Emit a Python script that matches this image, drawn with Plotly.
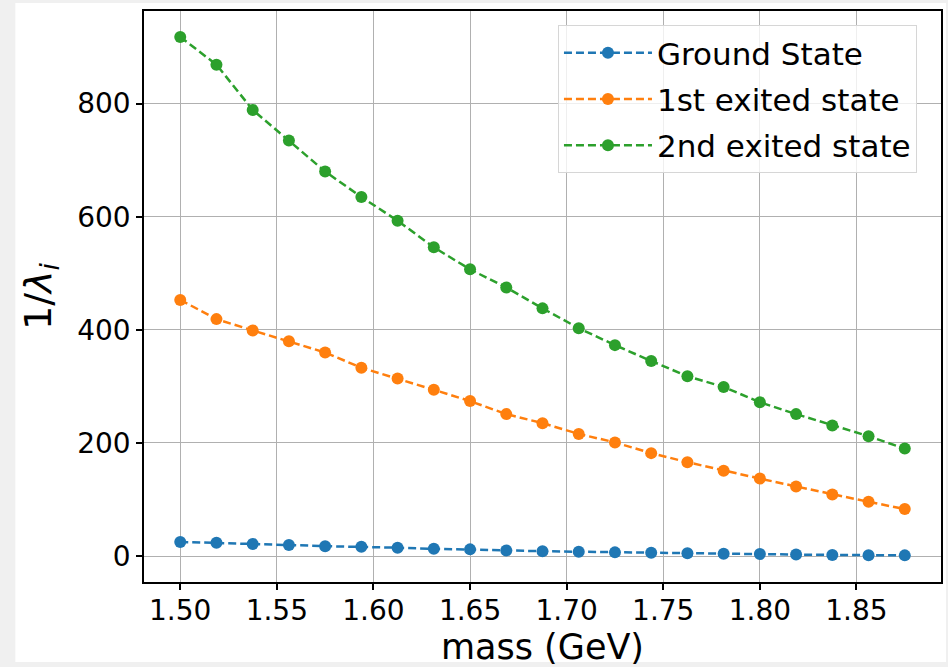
import plotly.graph_objects as go

mass = [1.5 + 0.01875 * i for i in range(21)]

ground_state = [25, 23.5, 21.5, 19.5, 17.5, 16.5, 14.8, 12.8, 11.8, 10.0, 8.5,
                7.5, 6.5, 5.8, 5.0, 4.2, 3.5, 2.6, 2.0, 1.6, 1.2]
first_excited = [453, 419, 399, 380, 360, 333, 314, 294, 274, 251, 235,
                 216, 201, 182, 166, 151, 137, 123, 109, 96, 83]
second_excited = [918, 869, 789, 735, 680, 635, 593, 546, 507, 475, 438,
                  403, 373, 345, 318, 299, 272, 251, 231, 212, 190]

series_names = ["Ground State", "1st exited state", "2nd exited state"]
series_values = [ground_state, first_excited, second_excited]
colors = ["#1f77b4", "#ff7f0e", "#2ca02c"]

x_ticks = [1.50, 1.55, 1.60, 1.65, 1.70, 1.75, 1.80, 1.85]
x_tick_labels = ["1.50", "1.55", "1.60", "1.65", "1.70", "1.75", "1.80", "1.85"]
y_ticks = [0, 200, 400, 600, 800]

FONT = "DejaVu Sans"

fig = go.Figure()
for name, vals, col in zip(series_names, series_values, colors):
    fig.add_trace(go.Scatter(
        x=mass, y=vals, name=name, mode="lines+markers", legendgroup=name,
        line=dict(color=col, width=2.5, dash="8px,4px"),
        marker=dict(color=col, size=12),
    ))

W, H = 948, 667
L, R, T, B = 144, 5, 11, 85
pw, ph = W - L - R, H - T - B

fig.add_shape(type="rect", xref="paper", yref="paper",
              x0=(15 - L) / pw, x1=(W - L) / pw,
              y0=(H - B - 662) / ph, y1=(H - B - 3) / ph,
              fillcolor="white", line_width=0, layer="below")

fig.update_layout(
    width=W, height=H,
    margin=dict(l=L, r=R, t=T, b=B),
    paper_bgcolor="#f0f0f0",
    plot_bgcolor="white",
    font=dict(family=FONT, size=28, color="black"),
    showlegend=True,
    legend=dict(
        x=(559 - L) / pw, y=1 - 14 / ph, xanchor="left", yanchor="top",
        bgcolor="rgba(255,255,255,0.8)", bordercolor="#d6d6d6", borderwidth=1,
        font=dict(family=FONT, size=31, color="black"),
        itemwidth=88, tracegroupgap=3,
    ),
    xaxis=dict(
        range=[1.48125, 1.89375],
        tickvals=x_ticks, ticktext=x_tick_labels,
        showgrid=True, gridcolor="#b0b0b0", gridwidth=1,
        showline=True, linecolor="black", linewidth=1.5, mirror=True,
        ticks="outside", ticklen=6, tickwidth=1.5, tickcolor="black",
        tickfont=dict(family=FONT, size=28), ticklabelstandoff=-3,
        zeroline=False,
        title=dict(text="mass (GeV)", font=dict(family=FONT, size=35), standoff=9),
    ),
    yaxis=dict(
        range=[-45.9, 963.9],
        tickvals=y_ticks,
        showgrid=True, gridcolor="#b0b0b0", gridwidth=1,
        showline=True, linecolor="black", linewidth=1.5, mirror=True,
        ticks="outside", ticklen=6, tickwidth=1.5, tickcolor="black",
        tickfont=dict(family=FONT, size=28),
        zeroline=False,
        title=dict(text="1/<i>λ</i><sub><i>i</i></sub>", font=dict(family=FONT, size=38), standoff=14),
    ),
)

fig.write_html(
    "out.html",
    config={"displayModeBar": False},
    post_script="document.body.style.margin='0px';document.body.style.background='#f0f0f0';",
)
